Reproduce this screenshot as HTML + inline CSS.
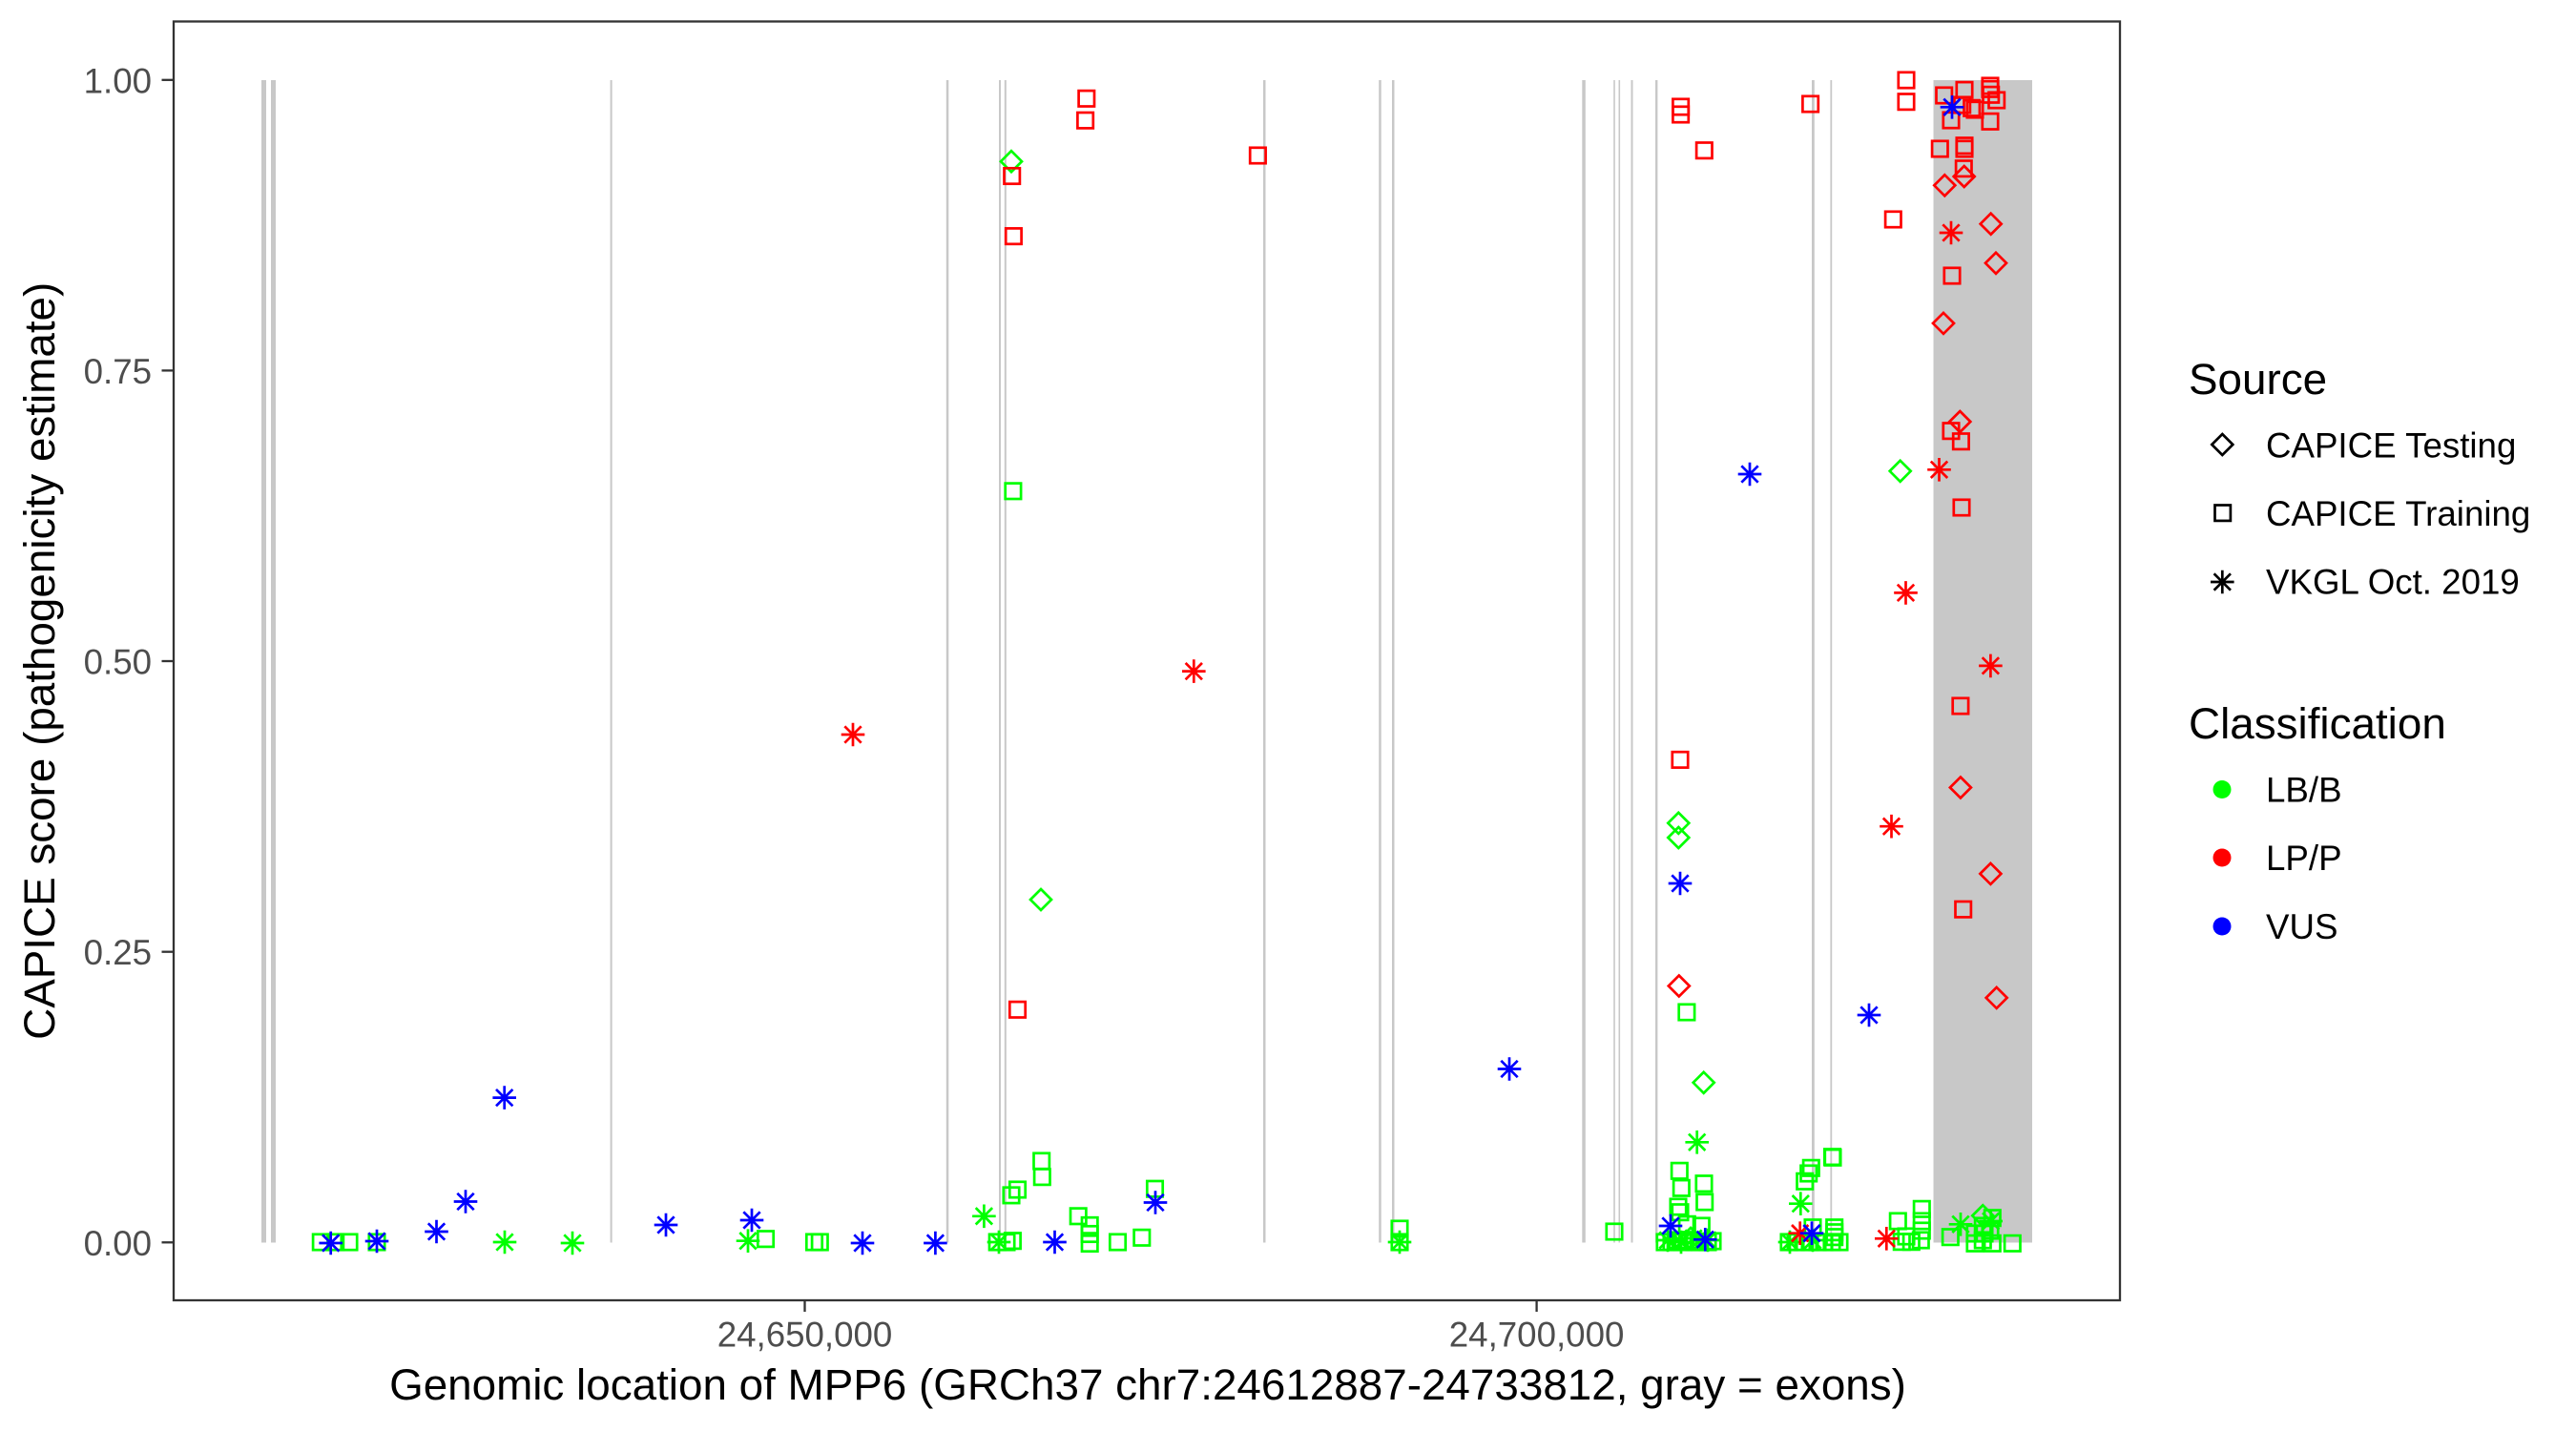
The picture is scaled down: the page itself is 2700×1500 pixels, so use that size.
<!DOCTYPE html>
<html><head><meta charset="utf-8"><style>
html,body{margin:0;padding:0;background:#fff;}
svg{display:block;font-family:"Liberation Sans",Arial,sans-serif;}
</style></head><body>
<svg width="2700" height="1500" viewBox="0 0 2700 1500" xmlns="http://www.w3.org/2000/svg">
<defs>
<rect id="sq" x="-8.2" y="-8.2" width="16.4" height="16.4" fill="none"/>
<path id="dm" d="M0,-11 L11,0 L0,11 L-11,0 Z" fill="none"/>
<path id="as" d="M0,-12.3 V12.3 M-12.3,0 H12.3 M-8.7,-8.7 L8.7,8.7 M-8.7,8.7 L8.7,-8.7" fill="none"/>
</defs>
<rect x="0" y="0" width="2700" height="1500" fill="#fff"/>
<!-- exons -->
<g fill="#c8c8c8">
<rect x="274" y="84" width="5" height="1218.5"/>
<rect x="284" y="84" width="5" height="1218.5"/>
<rect x="639.6" y="84" width="2" height="1218.5"/>
<rect x="991.8" y="84" width="2.5" height="1218.5"/>
<rect x="1047" y="84" width="2" height="1218.5"/>
<rect x="1052.8" y="84" width="2" height="1218.5"/>
<rect x="1324" y="84" width="2.5" height="1218.5"/>
<rect x="1445.2" y="84" width="2.5" height="1218.5"/>
<rect x="1459" y="84" width="2.5" height="1218.5"/>
<rect x="1658.3" y="84" width="3.5" height="1218.5"/>
<rect x="1691.2" y="84" width="1.6" height="1218.5"/>
<rect x="1696.5" y="84" width="1.6" height="1218.5"/>
<rect x="1709.5" y="84" width="2" height="1218.5"/>
<rect x="1735" y="84" width="2.4" height="1218.5"/>
<rect x="1899" y="84" width="2.8" height="1218.5"/>
<rect x="1918.4" y="84" width="1.8" height="1218.5"/>
<rect x="2026.5" y="84" width="103.5" height="1218.5"/>
</g>
<!-- green squares -->
<g stroke="#00ff00" stroke-width="2.7">
<use href="#sq" x="336.3" y="1302"/><use href="#sq" x="351.7" y="1302"/><use href="#sq" x="366" y="1302"/><use href="#sq" x="395" y="1302"/>
<use href="#sq" x="802.5" y="1298.7"/><use href="#sq" x="853.5" y="1302"/><use href="#sq" x="859.3" y="1302"/>
<use href="#sq" x="1045.2" y="1302"/><use href="#sq" x="1055" y="1302"/><use href="#sq" x="1061.4" y="1300.7"/>
<use href="#sq" x="1060" y="1252.9"/><use href="#sq" x="1066.5" y="1247"/><use href="#sq" x="1091.7" y="1217"/><use href="#sq" x="1092.3" y="1233.7"/>
<use href="#sq" x="1130.2" y="1274.8"/><use href="#sq" x="1142.2" y="1284.4"/><use href="#sq" x="1142.2" y="1293.5"/><use href="#sq" x="1142.2" y="1303.5"/>
<use href="#sq" x="1171.5" y="1302"/><use href="#sq" x="1196.8" y="1297.3"/><use href="#sq" x="1210.5" y="1246.2"/>
<use href="#sq" x="1061.9" y="514.8"/>
<use href="#sq" x="1467" y="1288"/><use href="#sq" x="1467" y="1302"/><use href="#sq" x="1692" y="1291"/>
<use href="#sq" x="1767.9" y="1061"/><use href="#sq" x="1920.5" y="1212.7"/>
<use href="#sq" x="1760.3" y="1227.3"/><use href="#sq" x="1762.3" y="1245.3"/><use href="#sq" x="1786" y="1240.7"/><use href="#sq" x="1786.7" y="1260"/>
<use href="#sq" x="1759" y="1265"/><use href="#sq" x="1761" y="1270.7"/><use href="#sq" x="1783.3" y="1285"/><use href="#sq" x="1768.3" y="1283.3"/>
<use href="#sq" x="1745" y="1302"/><use href="#sq" x="1752" y="1302"/><use href="#sq" x="1758" y="1300"/><use href="#sq" x="1764" y="1302"/>
<use href="#sq" x="1770" y="1300"/><use href="#sq" x="1776" y="1302"/><use href="#sq" x="1782" y="1302"/><use href="#sq" x="1790" y="1302"/><use href="#sq" x="1795" y="1301"/>
<use href="#sq" x="1921" y="1213.3"/><use href="#sq" x="1898.3" y="1224.3"/><use href="#sq" x="1895.7" y="1230"/><use href="#sq" x="1891.7" y="1238.3"/>
<use href="#sq" x="1900" y="1286.7"/><use href="#sq" x="1922.7" y="1286.7"/><use href="#sq" x="1922.7" y="1291.7"/><use href="#sq" x="1922.7" y="1296.7"/>
<use href="#sq" x="1875" y="1302"/><use href="#sq" x="1882" y="1302"/><use href="#sq" x="1890" y="1302"/><use href="#sq" x="1897" y="1302"/>
<use href="#sq" x="1905" y="1302"/><use href="#sq" x="1912" y="1302"/><use href="#sq" x="1920" y="1302"/><use href="#sq" x="1928" y="1302"/>
<use href="#sq" x="1989.3" y="1280"/><use href="#sq" x="2014.3" y="1267.3"/><use href="#sq" x="2014.3" y="1280"/><use href="#sq" x="2014.3" y="1290"/>
<use href="#sq" x="2013.3" y="1300"/><use href="#sq" x="1993.3" y="1301.7"/><use href="#sq" x="2003.3" y="1301.7"/><use href="#sq" x="1998" y="1296"/>
<use href="#sq" x="2044.3" y="1296.7"/><use href="#sq" x="2088.3" y="1276.7"/><use href="#sq" x="2078.3" y="1285"/><use href="#sq" x="2078.3" y="1300"/>
<use href="#sq" x="2088.3" y="1303.3"/><use href="#sq" x="2109.3" y="1303.3"/><use href="#sq" x="2070" y="1293"/><use href="#sq" x="2070" y="1303.3"/>
<use href="#sq" x="2080" y="1293"/><use href="#sq" x="2086" y="1290"/>
</g>
<!-- green diamonds -->
<g stroke="#00ff00" stroke-width="2.7">
<use href="#dm" x="1060" y="169.2"/><use href="#dm" x="1091" y="943"/><use href="#dm" x="1759.3" y="862.8"/><use href="#dm" x="1759.3" y="878"/>
<use href="#dm" x="1785.7" y="1134.8"/><use href="#dm" x="1991.7" y="493.8"/><use href="#dm" x="2078.3" y="1274.3"/><use href="#dm" x="1772" y="1298"/>
</g>
<!-- green asterisks -->
<g stroke="#00ff00" stroke-width="2.7">
<use href="#as" x="529" y="1302"/><use href="#as" x="600" y="1303"/><use href="#as" x="784" y="1300.7"/><use href="#as" x="1031.4" y="1274.8"/>
<use href="#as" x="1047" y="1302"/><use href="#as" x="1467" y="1302"/><use href="#as" x="1778.7" y="1197.3"/><use href="#as" x="1887.3" y="1261.7"/>
<use href="#as" x="2055" y="1283.3"/><use href="#as" x="2086.7" y="1280"/><use href="#as" x="1748" y="1300"/><use href="#as" x="1762" y="1302"/>
<use href="#as" x="1775" y="1298"/><use href="#as" x="1790" y="1300"/><use href="#as" x="1876" y="1302"/><use href="#as" x="1900" y="1300"/>
</g>
<!-- red squares -->
<g stroke="#ff0000" stroke-width="2.7">
<use href="#sq" x="1138.8" y="103.3"/><use href="#sq" x="1137.6" y="126.2"/><use href="#sq" x="1060.7" y="184.5"/><use href="#sq" x="1062.4" y="247.6"/>
<use href="#sq" x="1318.4" y="163"/><use href="#sq" x="1066.5" y="1058.3"/><use href="#sq" x="1761.6" y="112"/><use href="#sq" x="1761.6" y="120"/>
<use href="#sq" x="1786.3" y="157.7"/><use href="#sq" x="1761" y="796.4"/><use href="#sq" x="1897.6" y="109"/><use href="#sq" x="1998" y="84"/>
<use href="#sq" x="1998" y="106.7"/><use href="#sq" x="2037.7" y="100"/><use href="#sq" x="2059" y="94.3"/><use href="#sq" x="2086" y="90"/>
<use href="#sq" x="2086" y="93.3"/><use href="#sq" x="2086.7" y="99.3"/><use href="#sq" x="2092.7" y="105"/><use href="#sq" x="2045" y="126"/>
<use href="#sq" x="2056.7" y="110"/><use href="#sq" x="2066.7" y="113.3"/><use href="#sq" x="2070" y="115"/><use href="#sq" x="2086" y="127.3"/>
<use href="#sq" x="2033.3" y="156"/><use href="#sq" x="2059" y="152.7"/><use href="#sq" x="2059" y="156"/><use href="#sq" x="2058.3" y="176.7"/>
<use href="#sq" x="1984.3" y="230"/><use href="#sq" x="2046" y="289"/><use href="#sq" x="2045" y="451.7"/><use href="#sq" x="2055.4" y="462.7"/>
<use href="#sq" x="2056" y="532"/><use href="#sq" x="2054.9" y="740"/><use href="#sq" x="2057.7" y="953.2"/>
</g>
<!-- red diamonds -->
<g stroke="#ff0000" stroke-width="2.7">
<use href="#dm" x="2058.7" y="185"/><use href="#dm" x="2038.3" y="194.3"/><use href="#dm" x="2086.7" y="234.7"/><use href="#dm" x="2092" y="275.8"/>
<use href="#dm" x="2037" y="338.9"/><use href="#dm" x="2054.3" y="442"/><use href="#dm" x="1759.8" y="1033.5"/><use href="#dm" x="2054.9" y="825.5"/>
<use href="#dm" x="2086.4" y="915.9"/><use href="#dm" x="2092.7" y="1045.9"/>
</g>
<!-- red asterisks -->
<g stroke="#ff0000" stroke-width="2.7">
<use href="#as" x="894" y="770"/><use href="#as" x="1251.3" y="703.6"/><use href="#as" x="1982.5" y="866.2"/><use href="#as" x="1997.5" y="621.4"/>
<use href="#as" x="2032.5" y="492.3"/><use href="#as" x="2045" y="244"/><use href="#as" x="2086.4" y="697.9"/><use href="#as" x="1886.7" y="1292.7"/>
<use href="#as" x="1977.3" y="1298.3"/>
</g>
<!-- blue asterisks -->
<g stroke="#0000ff" stroke-width="2.7">
<use href="#as" x="346.7" y="1303"/><use href="#as" x="395" y="1301"/><use href="#as" x="457.5" y="1291"/><use href="#as" x="488" y="1259.5"/>
<use href="#as" x="528.7" y="1150.6"/><use href="#as" x="698" y="1284"/><use href="#as" x="788" y="1279"/><use href="#as" x="904" y="1303"/>
<use href="#as" x="980.4" y="1303"/><use href="#as" x="1105.5" y="1302"/><use href="#as" x="1211" y="1260.5"/><use href="#as" x="1582" y="1120.5"/>
<use href="#as" x="1834" y="497"/><use href="#as" x="1959" y="1064"/><use href="#as" x="2046" y="112.3"/><use href="#as" x="1761" y="926"/>
<use href="#as" x="1751" y="1285"/><use href="#as" x="1787.3" y="1299.3"/><use href="#as" x="1899" y="1292.7"/>
</g>
<!-- panel border -->
<rect x="182" y="22.5" width="2040" height="1340.5" fill="none" stroke="#333333" stroke-width="2.3"/>
<!-- ticks -->
<g stroke="#333333" stroke-width="2.3">
<line x1="169.5" y1="83.8" x2="182" y2="83.8"/>
<line x1="169.5" y1="388.4" x2="182" y2="388.4"/>
<line x1="169.5" y1="693" x2="182" y2="693"/>
<line x1="169.5" y1="997.7" x2="182" y2="997.7"/>
<line x1="169.5" y1="1302.3" x2="182" y2="1302.3"/>
<line x1="843.5" y1="1363" x2="843.5" y2="1375"/>
<line x1="1610.6" y1="1363" x2="1610.6" y2="1375"/>
</g>
<g fill="#4d4d4d" font-size="36.7">
<text x="159" y="97.3" text-anchor="end">1.00</text>
<text x="159" y="401.9" text-anchor="end">0.75</text>
<text x="159" y="706.5" text-anchor="end">0.50</text>
<text x="159" y="1011.2" text-anchor="end">0.25</text>
<text x="159" y="1315.8" text-anchor="end">0.00</text>
<text x="843.5" y="1411.5" text-anchor="middle">24,650,000</text>
<text x="1610.6" y="1411.5" text-anchor="middle">24,700,000</text>
</g>
<g fill="#000" font-size="45.8">
<text x="1203" y="1467" text-anchor="middle">Genomic location of MPP6 (GRCh37 chr7:24612887-24733812, gray = exons)</text>
<text transform="translate(57,692.8) rotate(-90)" text-anchor="middle">CAPICE score (pathogenicity estimate)</text>
<text x="2294" y="413">Source</text>
<text x="2294" y="774">Classification</text>
</g>
<!-- legend keys -->
<g stroke="#000" stroke-width="2.7">
<use href="#dm" x="2329.3" y="466"/>
<use href="#sq" x="2329.7" y="537.7"/>
<use href="#as" x="2329.3" y="610"/>
</g>
<circle cx="2329" cy="827.5" r="9.5" fill="#00ff00"/>
<circle cx="2329" cy="899" r="9.5" fill="#ff0000"/>
<circle cx="2329" cy="971" r="9.5" fill="#0000ff"/>
<g fill="#000" font-size="36.7">
<text x="2375" y="479.5">CAPICE Testing</text>
<text x="2375" y="551">CAPICE Training</text>
<text x="2375" y="622.5">VKGL Oct. 2019</text>
<text x="2375" y="840.5">LB/B</text>
<text x="2375" y="912">LP/P</text>
<text x="2375" y="984">VUS</text>
</g>
</svg>
</body></html>
